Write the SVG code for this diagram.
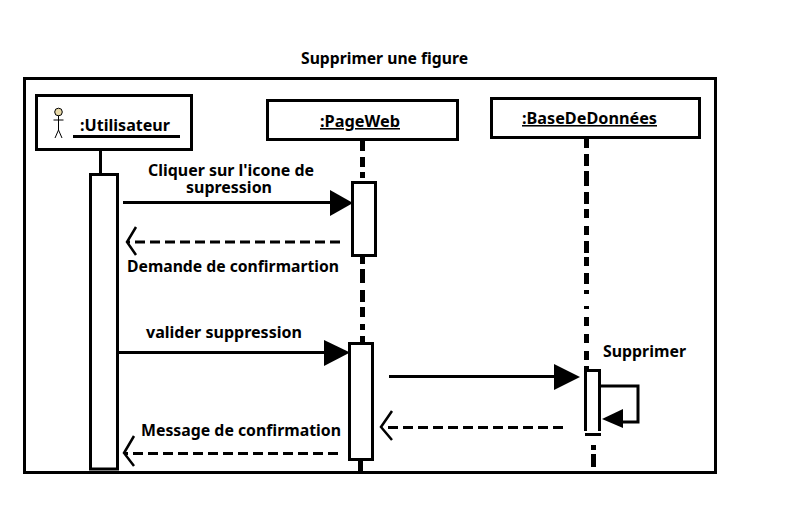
<svg xmlns="http://www.w3.org/2000/svg" width="789" height="524" viewBox="0 0 789 524">
<style>
.b{fill:#fff;stroke:#000;stroke-width:3}
.t{font-family:"Noto Sans","Open Sans",sans-serif;font-weight:700;font-size:15.5px;fill:#000}
.u{text-decoration:underline}
.l{fill:none;stroke:#000;stroke-width:3}
.o{fill:none;stroke:#000;stroke-width:2.500}
.h{fill:#000}
.ll{fill:none;stroke:#000;stroke-width:5}
</style>
<rect width="789" height="524" fill="#fff"/>
<text class="t" x="301" y="64" textLength="167" lengthAdjust="spacingAndGlyphs">Supprimer une figure</text>
<rect id="frame" class="b" x="24.500" y="78.500" width="691" height="394"/>
<g id="connectors">
<path class="l" d="M100.500 149V174"/>
<path class="ll" d="M362.500 141V151M362.500 157V167M362.500 172V178M362.500 256V264M362.500 269V283M362.500 290V302M362.500 307V317M362.500 324V330M362.500 336V342M360.500 460V472"/>
<path class="ll" d="M586.500 139V148M586.500 154V166M586.500 171V186M586.500 192V204M586.500 209V218M586.500 226V235M586.500 241V253M586.500 257V266M586.500 273V284M586.500 290V294M586.500 306V309M586.500 317V326M586.500 334V343M586.500 351V360M586.500 366V370M593.500 445V450M593.500 454V467"/>
<path class="l" d="M123 202.500H332"/><path class="h" d="M330 190L353 203L330 216Z"/>
<path class="l" stroke-dasharray="10 5" d="M340 242H128"/><path class="o" d="M136 227L127 242L136 255"/>
<path class="l" d="M118 352.500H326"/><path class="h" d="M324 340L350 352.500L324 366Z"/>
<path class="l" d="M389 376.500H556"/><path class="h" d="M554 364L580 377L554 390Z"/>
<path class="l" d="M600 386H638V422H622"/><path class="h" d="M623 409V428L602 419Z"/>
<path class="l" stroke-dasharray="10 5" d="M563 427.500H383"/><path class="o" d="M392 411L381 427L392 440"/>
<path class="l" stroke-dasharray="10 5" d="M338 453.500H125"/><path class="o" d="M134 436L124 453L134 466"/>
</g>
<g id="utilisateur">
<rect class="b" x="36.500" y="95.500" width="155" height="54"/>
<circle cx="58.500" cy="112" r="3.800" fill="#e8d9a8" stroke="#000"/>
<path fill="none" stroke="#000" d="M58.500 115.500V130M53.500 120H63.500M58.500 130L55 138M58.500 130L62 138"/>
<text class="t" x="80" y="131" textLength="90" lengthAdjust="spacingAndGlyphs">:Utilisateur</text>
<path class="l" d="M73 136.500H180"/>
</g>
<g id="pageweb">
<rect class="b" x="267.500" y="100.500" width="190" height="39"/>
<text class="t u" x="320" y="127" textLength="80" lengthAdjust="spacingAndGlyphs">:PageWeb</text>
</g>
<g id="basededonnees">
<rect class="b" x="491.500" y="98.500" width="208" height="39"/>
<text class="t u" x="522" y="124" textLength="135" lengthAdjust="spacingAndGlyphs">:BaseDeDonnées</text>
</g>
<g id="act-utilisateur"><rect class="b" x="90.500" y="174.500" width="27" height="294.500"/></g>
<g id="act-page-1"><rect class="b" x="352.500" y="182.500" width="23" height="73"/></g>
<g id="act-page-2"><rect class="b" x="349.500" y="343.500" width="23" height="116"/></g>
<g id="act-bdd">
<path class="b" d="M585.500 431V370.500H599.500V431"/>
<path class="l" d="M585 434.500H601"/>
</g>
<g id="labels">
<text class="t"><tspan x="148" y="176" textLength="166" lengthAdjust="spacingAndGlyphs">Cliquer sur l'icone de</tspan><tspan x="186" y="193" textLength="86" lengthAdjust="spacingAndGlyphs">supression</tspan></text>
<text class="t" x="127" y="272" textLength="212" lengthAdjust="spacingAndGlyphs">Demande de confirmartion</text>
<text class="t" x="146" y="338" textLength="156" lengthAdjust="spacingAndGlyphs">valider suppression</text>
<text class="t" x="141" y="436" textLength="200" lengthAdjust="spacingAndGlyphs">Message de confirmation</text>
<text class="t" x="603" y="357" textLength="83" lengthAdjust="spacingAndGlyphs">Supprimer</text>
</g>
</svg>
